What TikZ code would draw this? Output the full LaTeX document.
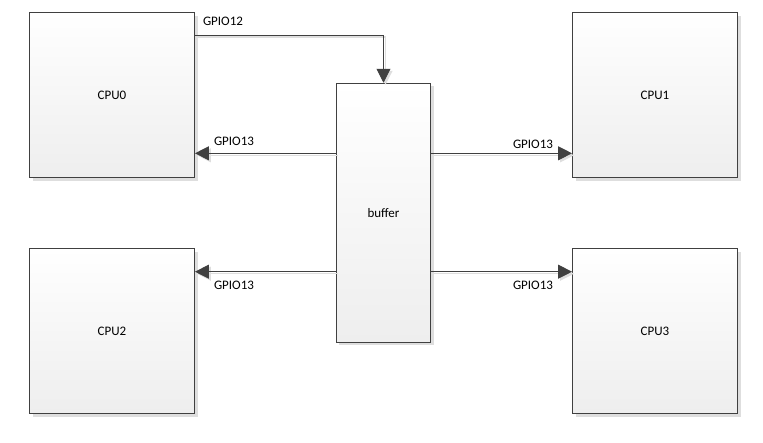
\documentclass[tikz,border=0pt]{standalone}
\usepackage{fontspec}
\setmainfont{Carlito}
\usepackage{tikz}
\usetikzlibrary{arrows.meta, positioning, shadows}
\definecolor{boxline}{RGB}{64,64,64}
\definecolor{boxshade}{RGB}{238,238,238}
\definecolor{shadowgray}{RGB}{222,222,222}

\begin{document}
\begin{tikzpicture}[x=1pt, y=-1pt, font=\fontsize{13}{15}\selectfont,
    chip/.style={draw=boxline, line width=0.9pt, top color=white, bottom color=boxshade,
        minimum width=165pt, minimum height=165pt, inner sep=0pt,
        drop shadow={shadow xshift=3pt, shadow yshift=-3pt, fill=shadowgray, opacity=1}},
    link/.style={draw=boxline, line width=0.9pt, -{Triangle[length=14pt, width=14pt]},
        preaction={draw=shadowgray, line width=1.2pt, transform canvas={shift={(2pt,-2pt)}}}}]
    \useasboundingbox (0,0) rectangle (763,442);

    % CPUs and buffer
    \node[chip] (cpu0) at (112,95) {CPU0};
    \node[chip] (cpu1) at (655,95) {CPU1};
    \node[chip] (cpu2) at (112,331) {CPU2};
    \node[chip] (cpu3) at (655,331) {CPU3};
    \node[chip, minimum width=94.5pt, minimum height=259pt] (buffer) at (383.5,212.7) {buffer};

    % rows of the GPIO13 lines
    \coordinate (upper) at (0,153.3);
    \coordinate (lower) at (0,271.7);

    % connectors
    \draw[link] ([yshift=-23pt]cpu0.north east) -| (buffer.north);
    \draw[link] (buffer.west |- upper) -- (cpu0.east |- upper);
    \draw[link] (buffer.east |- upper) -- (cpu1.west |- upper);
    \draw[link] (buffer.west |- lower) -- (cpu2.east |- lower);
    \draw[link] (buffer.east |- lower) -- (cpu3.west |- lower);

    % labels
    \node (gpio12) at (223,21) {GPIO12};
    \node (gpio13a) at (234,141) {GPIO13};
    \node (gpio13b) at (533,144) {GPIO13};
    \node (gpio13c) at (234,285) {GPIO13};
    \node (gpio13d) at (533,285) {GPIO13};
\end{tikzpicture}
\end{document}
